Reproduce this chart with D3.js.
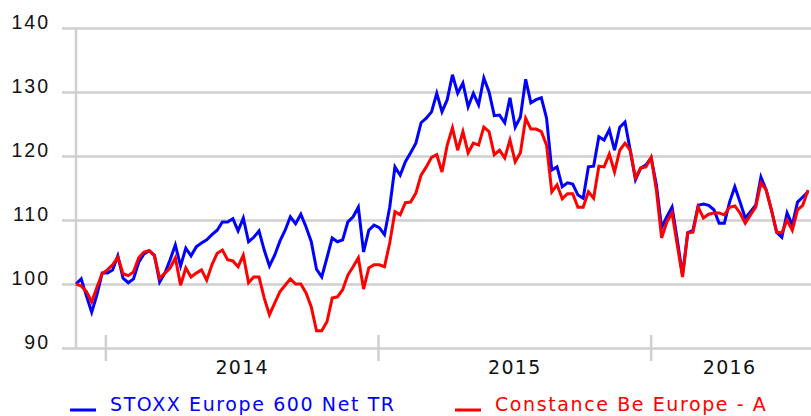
<!DOCTYPE html>
<html>
<head>
<meta charset="utf-8">
<script src="https://cdn.jsdelivr.net/npm/d3@7"></script>
<style>
  body { margin: 0; background: #fff; }
  svg { display: block; font-family: "DejaVu Sans", Verdana, sans-serif; }
</style>
</head>
<body>
<div id="chart"></div>
<script>
// weekly series, starting 22 Nov 2013
const startDate = new Date(2013, 10, 22);

const stoxx = [
  100.0, 100.8, 98.1, 95.6, 98.3, 101.7, 101.7, 102.2, 104.4, 100.9,
  100.2, 100.8, 103.4, 104.7, 105.2, 104.5, 100.3, 101.7, 103.8, 106.1,
  102.8, 105.6, 104.4, 105.8, 106.4, 106.9, 107.7, 108.4, 109.7, 109.7,
  110.2, 108.3, 110.3, 106.6, 107.3, 108.3, 105.3, 102.8, 104.5, 106.7,
  108.4, 110.5, 109.4, 110.9, 108.9, 106.6, 102.3, 101.1, 104.1, 107.2,
  106.6, 106.9, 109.7, 110.5, 112.0, 105.0, 108.4, 109.2, 108.8, 107.7,
  112.0, 118.3, 117.0, 119.1, 120.5, 122.0, 125.2, 125.9, 126.9, 129.8,
  126.9, 128.8, 132.7, 129.8, 131.4, 127.7, 129.8, 128.0, 132.2, 130.0,
  126.3, 126.4, 125.2, 129.1, 124.5, 126.1, 132.0, 128.3, 128.8, 129.1,
  125.9, 117.8, 118.3, 115.2, 115.8, 115.6, 113.9, 113.4, 118.3, 118.4,
  123.0, 122.5, 124.1, 120.9, 124.5, 125.3, 120.9, 116.3, 118.1, 118.6,
  119.7, 115.5, 108.8, 110.5, 112.0, 106.9, 101.4, 108.0, 108.4, 112.3,
  112.5, 112.3, 111.6, 109.5, 109.5, 112.8, 115.2, 112.8, 110.3, 111.3,
  112.3, 116.7, 114.7, 111.6, 108.1, 107.3, 111.1, 109.2, 112.8, 113.6,
  114.4
];

const constance = [
  100.0, 99.7, 98.8, 97.2, 99.5, 101.6, 102.2, 103.0, 104.2, 101.6,
  101.3, 101.9, 104.1, 105.0, 105.2, 104.4, 100.9, 101.7, 102.5, 104.1,
  99.8, 102.5, 101.1, 101.7, 102.2, 100.6, 103.0, 104.8, 105.3, 103.8,
  103.6, 102.7, 104.5, 100.2, 101.1, 101.1, 97.8, 95.2, 97.0, 98.8,
  99.8, 100.8, 100.0, 100.0, 98.6, 96.4, 92.7, 92.7, 94.1, 97.8,
  98.0, 99.1, 101.4, 102.7, 104.1, 99.2, 102.5, 103.0, 103.0, 102.7,
  106.4, 111.3, 110.8, 112.7, 112.8, 114.2, 117.0, 118.3, 119.8, 120.2,
  117.5, 121.7, 124.4, 120.9, 123.8, 120.5, 122.0, 121.7, 124.5, 123.8,
  120.2, 120.9, 119.7, 122.5, 119.1, 120.5, 125.9, 124.2, 124.2, 123.8,
  121.7, 114.4, 115.5, 113.3, 114.1, 114.1, 112.0, 112.0, 114.4, 113.4,
  118.4, 118.3, 120.3, 117.5, 120.9, 122.0, 120.9, 116.6, 118.1, 118.3,
  119.8, 114.7, 107.2, 109.7, 111.1, 106.1, 101.1, 108.0, 108.1, 112.0,
  110.3, 110.9, 111.1, 111.1, 110.8, 112.0, 112.2, 111.1, 109.5, 110.8,
  112.0, 115.8, 114.7, 111.6, 108.1, 108.0, 110.0, 108.4, 111.6, 112.3,
  114.7
];

const yTicks = [90, 100, 110, 120, 130, 140];
const years = [2014, 2015, 2016];
const seriesNames = ["STOXX Europe 600 Net TR", "Constance Be Europe - A"];
const seriesColors = ["#0000ff", "#ff0000"];

const dates = stoxx.map((_, i) => d3.timeWeek.offset(startDate, i));

const width = 811, height = 416;

const svg = d3.select("#chart").append("svg")
    .attr("width", width)
    .attr("height", height);

const x = d3.scaleTime()
    .domain([dates[0], dates[dates.length - 1]])
    .range([76, 808]);

const y = d3.scaleLinear()
    .domain([90, 140])
    .range([348, 28]);

// horizontal grid + labels
const yAxis = svg.append("g")
    .attr("transform", "translate(62,0)")
    .call(d3.axisLeft(y).tickValues(yTicks).tickSize(-(width - 62)).tickPadding(12));

yAxis.select(".domain").remove();
yAxis.selectAll("line")
    .attr("stroke", "#cfcfcf")
    .attr("stroke-width", 2.5);
yAxis.selectAll("text")
    .attr("dy", "0")
    .attr("y", 0)
    .attr("fill", "#111")
    .style("font-size", "19.5px")
    .style("letter-spacing", "2px");

// vertical axis line
svg.append("line")
    .attr("x1", 76).attr("x2", 76)
    .attr("y1", y(140)).attr("y2", y(90))
    .attr("stroke", "#cfcfcf")
    .attr("stroke-width", 2.5);

// year ticks
const yearStarts = years.map(yr => new Date(yr, 0, 1));
svg.selectAll(".year-tick")
    .data(yearStarts)
    .enter().append("line")
    .attr("class", "year-tick")
    .attr("x1", d => x(d)).attr("x2", d => x(d))
    .attr("y1", 335).attr("y2", 361)
    .attr("stroke", "#cfcfcf")
    .attr("stroke-width", 2.5);

const endDate = dates[dates.length - 1];
svg.selectAll(".year-label")
    .data(yearStarts)
    .enter().append("text")
    .attr("class", "year-label")
    .attr("x", (d, i) => {
        const next = i < yearStarts.length - 1 ? yearStarts[i + 1] : endDate;
        return (x(d) + x(next)) / 2;
    })
    .attr("y", 374)
    .attr("text-anchor", "middle")
    .attr("fill", "#111")
    .style("font-size", "19px")
    .style("letter-spacing", "1.3px")
    .text(d => d.getFullYear());

// lines
const line = d3.line()
    .x((d, i) => x(dates[i]))
    .y(d => y(d));

[stoxx, constance].forEach((s, k) => {
    svg.append("path")
        .datum(s)
        .attr("fill", "none")
        .attr("stroke", seriesColors[k])
        .attr("stroke-width", 3)
        .attr("stroke-linejoin", "miter")
        .attr("d", line);
});

// legend
const legendX = [70, 455];
seriesNames.forEach((name, k) => {
    const g = svg.append("g").attr("transform", `translate(${legendX[k]},0)`);
    g.append("line")
        .attr("x1", 0).attr("x2", 26)
        .attr("y1", 410).attr("y2", 410)
        .attr("stroke", seriesColors[k])
        .attr("stroke-width", 3);
    g.append("text")
        .attr("x", 40)
        .attr("y", 411)
        .attr("fill", seriesColors[k])
        .style("font-size", "19px")
        .style("letter-spacing", "1.6px")
        .text(name);
});
</script>
</body>
</html>
